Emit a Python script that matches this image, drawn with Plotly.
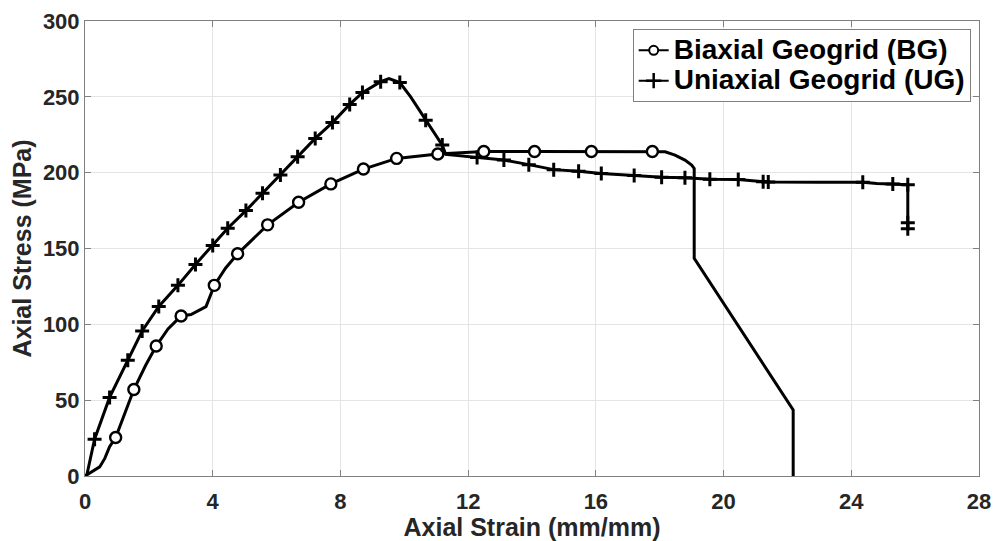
import plotly.graph_objects as go

# ---- data ----
bg_x = [0, 0.46, 0.62, 0.77, 0.96, 1.3, 1.53, 1.9, 2.23, 2.6, 3.01, 3.32, 3.79, 4.05, 4.4, 4.78,
        5.72, 6.69, 7.7, 8.72, 9.76, 11.05, 12.49, 14.08, 15.86, 17.77, 18.17, 18.48, 18.79,
        19.0, 19.08, 19.08, 22.18, 22.18]
bg_y = [0, 6, 11.6, 19.3, 25.4, 45, 57, 73, 85.7, 97, 105.5, 106.5, 111.7, 125.7, 137, 146.5,
        165.6, 180.5, 192.6, 202.4, 209.4, 212.3, 214, 214, 214, 214, 213.8, 211.6, 208.3,
        205, 202.8, 143.5, 43.5, 0]
bg_mx = [0.96, 1.53, 2.23, 3.01, 4.05, 4.78, 5.72, 6.69, 7.7, 8.72, 9.76, 11.05, 12.49, 14.08,
         15.86, 17.77]
bg_my = [25.4, 57, 85.7, 105.5, 125.7, 146.5, 165.6, 180.5, 192.6, 202.4, 209.4, 212.3, 214,
         214, 214, 214]

ug_x = [0.05, 0.3, 0.77, 1.34, 1.79, 2.31, 2.91, 3.46, 4.0, 4.47, 5.04, 5.56, 6.12, 6.66, 7.21,
        7.75, 8.29, 8.69, 9.26, 9.52, 9.86, 10.2, 10.67, 11.19, 11.3, 12.28, 13.12, 13.9, 14.68,
        15.46, 16.17, 17.2, 18.06, 18.79, 19.57, 20.46, 21.24, 21.4, 23.0, 24.36, 24.8, 25.3,
        25.77, 25.77]
ug_y = [0, 24.3, 51.8, 76.3, 95.6, 111.8, 125.7, 139.5, 152, 163.4, 175, 186.4, 198.5, 210.5,
        222.6, 233, 245, 252.8, 260, 262, 259.4, 250, 234.5, 218.2, 212, 210, 208.3, 205.3, 202,
        200.9, 199.5, 198.2, 196.9, 196.6, 195.7, 195.5, 194, 193.8, 193.6, 193.6, 192.8, 192.5,
        192, 162]
ug_mx = [0.3, 0.77, 1.34, 1.79, 2.31, 2.91, 3.46, 4.0, 4.47, 5.04, 5.56, 6.12, 6.66, 7.21, 7.75,
         8.29, 8.69, 9.26, 9.86, 10.67, 11.19, 12.28, 13.12, 13.9, 14.68, 15.46, 16.17, 17.2,
         18.06, 18.79, 19.57, 20.46, 21.24, 21.4, 24.36, 25.3, 25.77, 25.77, 25.77]
ug_my = [24.3, 51.8, 76.3, 95.6, 111.8, 125.7, 139.5, 152, 163.4, 175, 186.4, 198.5, 210.5,
         222.6, 233, 245, 252.8, 260, 259.4, 234.5, 218.2, 210, 208.3, 205.3, 202, 200.9, 199.5,
         198.2, 196.9, 196.6, 195.7, 195.5, 194, 193.8, 193.6, 192.5, 192, 167, 163]

names = ["Biaxial Geogrid (BG)", "Uniaxial Geogrid (UG)"]
x_ticks = [0, 4, 8, 12, 16, 20, 24, 28]
y_ticks = [0, 50, 100, 150, 200, 250, 300]

FONT = "Liberation Sans, Arial, sans-serif"
LW = 3
circ = dict(symbol="circle", size=11, color="white", line=dict(color="black", width=2.4))
plus = dict(symbol="cross-thin", size=10, color="black", line=dict(color="black", width=3))

fig = go.Figure()
fig.add_trace(go.Scatter(x=bg_x, y=bg_y, mode="lines", line=dict(color="black", width=LW),
                         showlegend=False, hoverinfo="skip"))
fig.add_trace(go.Scatter(x=ug_x, y=ug_y, mode="lines", line=dict(color="black", width=LW),
                         showlegend=False, hoverinfo="skip"))
fig.add_trace(go.Scatter(x=bg_mx, y=bg_my, mode="markers", marker=circ, showlegend=False))
fig.add_trace(go.Scatter(x=ug_mx, y=ug_my, mode="markers", marker=plus, showlegend=False))
for nm, mk in zip(names, [dict(symbol="circle", size=9, color="white",
                               line=dict(color="black", width=2)),
                          dict(symbol="cross-thin", size=11, color="black",
                               line=dict(color="black", width=2.5))]):
    fig.add_trace(go.Scatter(x=[None], y=[None], mode="lines+markers",
                             name='<span style="font-size:28px">' + nm + '</span>',
                             line=dict(color="black", width=2), marker=mk))

axis_common = dict(
    showline=True, linecolor="#808080", linewidth=1, mirror="ticks",
    ticks="inside", ticklen=6, tickcolor="#808080", tickwidth=1,
    showgrid=True, gridcolor="#e4e4e4", gridwidth=1, zeroline=False,
    automargin=False,
    tickfont=dict(family=FONT, size=22, color="#262626", weight="bold"),
)

fig.update_layout(
    width=995, height=541,
    margin=dict(l=85, r=16, t=21, b=65),
    paper_bgcolor="white", plot_bgcolor="white",
    xaxis=dict(range=[0, 28], tickvals=x_ticks, ticktext=[str(v) for v in x_ticks],
               ticklabelstandoff=6,
               title=dict(text="Axial Strain (mm/mm)", standoff=5,
                          font=dict(family=FONT, size=25, color="#262626", weight="bold")),
               **axis_common),
    yaxis=dict(range=[0, 300], tickvals=y_ticks, ticktext=[str(v) for v in y_ticks],
               title=dict(text="Axial Stress (MPa)", standoff=4,
                          font=dict(family=FONT, size=25, color="#262626", weight="bold")),
               **axis_common),
    legend=dict(x=0.9907, y=0.982, xanchor="right", yanchor="top",
                bgcolor="white", bordercolor="#808080", borderwidth=1,
                font=dict(family=FONT, size=21, color="black", weight="bold"),
                itemwidth=30, tracegroupgap=0),
    showlegend=True,
)

fig.write_html("out.html")
